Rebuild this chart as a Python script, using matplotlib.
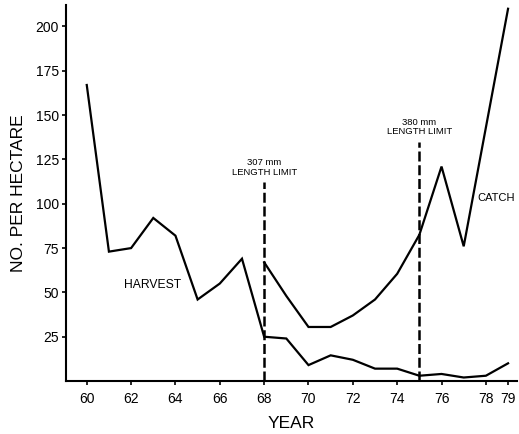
import matplotlib
matplotlib.use("Agg")
import matplotlib.pyplot as plt

plt.rcParams['font.family'] = ['Liberation Sans', 'DejaVu Sans']

harvest_years = [60, 61, 62, 63, 64, 65, 66, 67, 68, 69, 70, 71, 72, 73, 74, 75, 76, 77, 78, 79]
harvest = [167, 73, 75, 92, 82, 46, 55, 69, 25, 24, 9, 14.5, 12, 7, 7, 3, 4, 2, 3, 10]

catch_years = [68, 69, 70, 71, 72, 73, 74, 75, 76, 77, 78, 79]
catch = [67, 48, 30.5, 30.5, 37, 46, 60.5, 82.5, 121, 76, 143, 210]

limit_years = [68, 75]
limit_tops = [112, 135]
limit_labels = ["307 mm\nLENGTH LIMIT", "380 mm\nLENGTH LIMIT"]

x_ticks = [60, 62, 64, 66, 68, 70, 72, 74, 76, 78, 79]
y_ticks = [25, 50, 75, 100, 125, 150, 175, 200]

fig = plt.figure(figsize=(5.19, 4.34), dpi=100)
ax = fig.add_axes([0.127, 0.122, 0.869, 0.866])

ax.plot(harvest_years, harvest, color='black', lw=1.6, solid_joinstyle='miter')
ax.plot(catch_years, catch, color='black', lw=1.6, solid_joinstyle='miter')

for x, top, lab in zip(limit_years, limit_tops, limit_labels):
    ax.plot([x, x], [0, top], color='black', lw=1.8, ls=(0, (4, 1.5)))
    ax.text(x, top + 3, lab, ha='center', va='bottom', fontsize=6.8, linespacing=1.1)

ax.text(77.6, 103, "CATCH", ha='left', va='center', fontsize=8)
ax.text(61.7, 54, "HARVEST", ha='left', va='center', fontsize=8.7)

ax.set_xlim(59.06, 79.4)
ax.set_ylim(0, 212)
ax.set_xticks(x_ticks)
ax.set_yticks(y_ticks)
ax.tick_params(direction='out', length=3, width=1.2, labelsize=10, pad=2)
ax.tick_params(axis='x', pad=5)
for s in ['top', 'right']:
    ax.spines[s].set_visible(False)
for s in ['left', 'bottom']:
    ax.spines[s].set_linewidth(1.5)

ax.set_xlabel("YEAR", fontsize=12.5, labelpad=7)
ax.set_ylabel("NO. PER HECTARE", fontsize=12.5, labelpad=7)

fig.savefig("out.png", dpi=100)
